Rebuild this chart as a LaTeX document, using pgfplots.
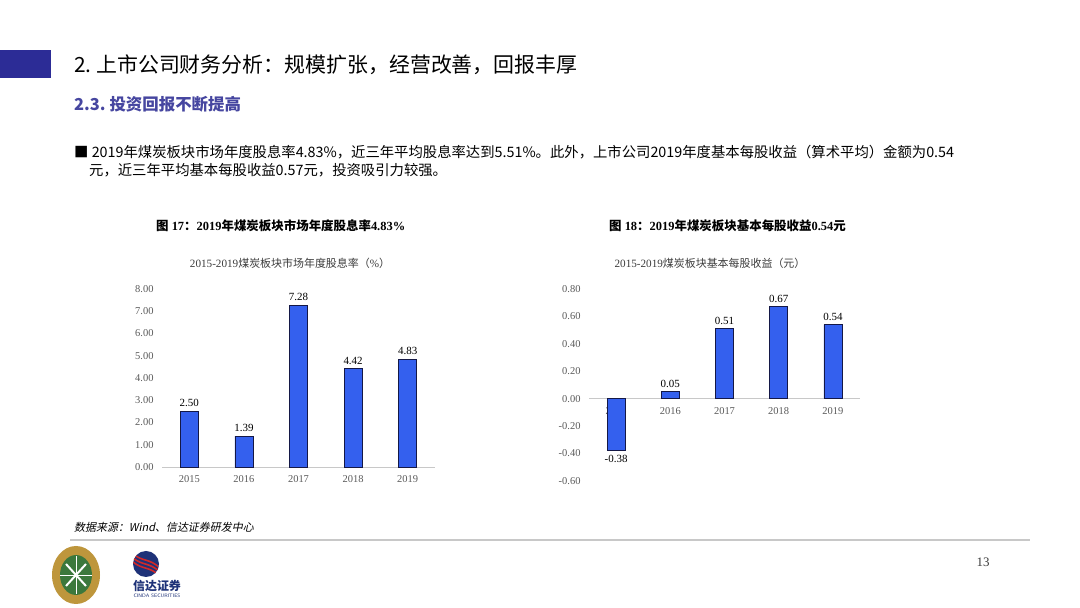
\documentclass[border=0pt]{standalone}
\usepackage{fontspec}
\setmainfont{Liberation Serif}
\newfontfamily\cjk{Noto Sans CJK SC}
\newfontfamily\cjkit[FakeSlant=0.2]{Noto Sans CJK SC}
\usepackage{pgfplots}
\pgfplotsset{compat=1.18}
\definecolor{navy}{RGB}{44,44,150}
\definecolor{subblue}{RGB}{70,70,160}
\definecolor{barblue}{RGB}{52,96,238}
\definecolor{baredge}{RGB}{20,24,70}
\definecolor{axisgray}{RGB}{200,200,200}
\definecolor{ticktext}{RGB}{90,90,90}
\definecolor{titlegray}{RGB}{60,60,60}
\definecolor{gold}{RGB}{190,150,60}
\definecolor{dgreen}{RGB}{60,120,60}
\definecolor{cindablue}{RGB}{30,50,120}
\definecolor{cindared}{RGB}{210,40,40}
\pgfplotsset{
  mybar/.style={
    scale only axis, ybar, bar width=18bp,
    xmin=-0.5, xmax=4.5, xtick=data,
    xticklabels={2015,2016,2017,2018,2019},
    axis y line=left,
    major tick length=0pt,
    tick label style={font=\fontsize{10.5}{12}\selectfont, text=ticktext},
    xticklabel style={yshift=-5bp},
    yticklabel style={xshift=-5bp},
    /pgf/number format/assume math mode=true,
    yticklabel style={/pgf/number format/.cd, fixed, fixed zerofill, precision=2},
    scaled y ticks=false,
    nodes near coords,
    nodes near coords style={font=\fontsize{11}{12}\selectfont, text=black, inner sep=4bp,
      /pgf/number format/.cd, fixed, fixed zerofill, precision=2, assume math mode=true},
    clip=false,
  },
  fixlines/.style={
    y axis line style={draw=none},
    x axis line style={-, draw=axisgray, line width=0.8pt},
    every inner x axis line/.append style={-},
  }
}
\begin{document}
\begin{tikzpicture}[x=1bp,y=1bp]
\path[use as bounding box, fill=white] (0,0) rectangle (1080,608);
\coordinate (A1) at (162,141);
\coordinate (A2) at (589,127);
% header
\fill[navy] (0,530) rectangle (51,558);
\node[anchor=west, inner sep=0pt, font=\cjk\fontsize{21}{24}\selectfont] at (74,543) {2.\ 上市公司财务分析：规模扩张，经营改善，回报丰厚};
\node[anchor=west, inner sep=0pt, text=subblue, font=\cjk\bfseries\fontsize{16.5}{18}\selectfont] at (74,504) {2.3.\ 投资回报不断提高};
\node[anchor=west, inner sep=0pt, font=\cjk\fontsize{14.4}{16}\selectfont] at (74,456) {■ 2019年煤炭板块市场年度股息率4.83\%，近三年平均股息率达到5.51\%。此外，上市公司2019年度基本每股收益（算术平均）金额为0.54};
\node[anchor=west, inner sep=0pt, font=\cjk\fontsize{14.4}{16}\selectfont] at (89,438) {元，近三年平均基本每股收益0.57元，投资吸引力较强。};
% chart titles
\node[anchor=west, inner sep=0pt, font=\bfseries\fontsize{12.5}{15}\selectfont] at (156,382) {{\cjk 图} 17{\cjk ：}2019{\cjk 年煤炭板块市场年度股息率}4.83\%};
\node[anchor=west, inner sep=0pt, font=\bfseries\fontsize{12.5}{15}\selectfont] at (609,382) {{\cjk 图} 18{\cjk ：}2019{\cjk 年煤炭板块基本每股收益}0.54{\cjk 元}};
\node[inner sep=0pt, text=titlegray, font=\fontsize{11.2}{13}\selectfont] at (290,345) {2015-2019{\cjk\fontsize{11}{13}\selectfont 煤炭板块市场年度股息率（}\%{\cjk\fontsize{11}{13}\selectfont ）}};
\node[inner sep=0pt, text=titlegray, font=\fontsize{11.2}{13}\selectfont] at (710,345) {2015-2019{\cjk\fontsize{11}{13}\selectfont 煤炭板块基本每股收益（元）}};
% chart 1
\begin{axis}[mybar, at={(A1)}, anchor=south west, width=273bp, height=178bp,
  ymin=0, ymax=8, ytick={0,1,...,8}, axis x line=bottom, fixlines]
\addplot[fill=barblue, draw=baredge, line width=0.8pt] coordinates {(0,2.50) (1,1.39) (2,7.28) (3,4.42) (4,4.83)};
\end{axis}
% chart 2
\begin{axis}[mybar, at={(A2)}, anchor=south west, width=271bp, height=192bp,
  ymin=-0.6, ymax=0.8, ytick={-0.6,-0.4,...,0.81}, axis x line=middle, fixlines]
\addplot[fill=barblue, draw=baredge, line width=0.8pt] coordinates {(0,-0.38) (1,0.05) (2,0.51) (3,0.67) (4,0.54)};
\end{axis}
% footer
\node[anchor=west, inner sep=0pt, font=\cjkit\fontsize{11}{12}\selectfont] at (74,81) {数据来源：Wind、信达证券研发中心};
\draw[draw=axisgray, line width=1.2pt] (70,68) -- (1030,68);
\node[inner sep=0pt, text=titlegray, font=\fontsize{13}{15}\selectfont] at (983,46) {13};
% emblem
\fill[gold] (76,33) ellipse (24 and 29);
\fill[dgreen] (76,33) ellipse (16 and 20);
\draw[white, line width=2pt] (66,22) -- (86,44) (86,22) -- (66,44);
\draw[white, line width=0.6pt] (60,33) -- (92,33) (76,14) -- (76,52);
% cinda logo
\fill[cindablue] (146,44) circle (13);
\begin{scope}
\clip (146,44) circle (13);
\foreach \d in {-6,-2,2} {\draw[cindared, line width=1.6pt] (133,44+\d+8) .. controls (143,44+\d) and (149,44+\d+4) .. (160,44+\d-6);}
\end{scope}
\node[inner sep=0pt, text=cindablue, font=\cjk\bfseries\fontsize{12}{14}\selectfont] at (157,22) {信达证券};
\node[inner sep=0pt, text=cindablue, font=\fontsize{5}{6}\selectfont\sffamily] at (157,12) {CINDA SECURITIES};
\end{tikzpicture}
\end{document}
